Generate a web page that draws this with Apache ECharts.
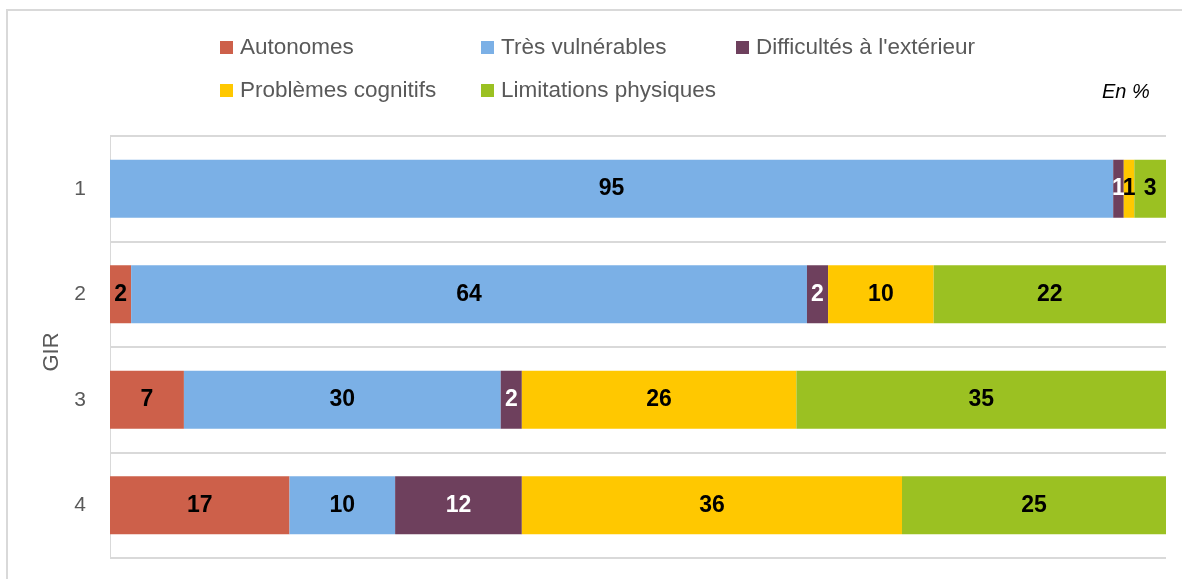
<!DOCTYPE html>
<html>
<head>
<meta charset="utf-8">
<script src="https://cdn.jsdelivr.net/npm/echarts@6/dist/echarts.min.js"></script>
<style>
html,body{margin:0;padding:0;background:#fff;}
#c{width:1182px;height:579px;}
</style>
</head>
<body>
<div id="c"></div>
<script>
const categories = ['1', '2', '3', '4'];
const seriesNames = ['Autonomes', 'Très vulnérables', "Difficultés à l'extérieur", 'Problèmes cognitifs', 'Limitations physiques'];
const autonomes = [0, 2, 7, 17];
const tresVulnerables = [95, 64, 30, 10];
const difficultes = [1, 2, 2, 12];
const problemes = [1, 10, 26, 36];
const limitations = [3, 22, 35, 25];
const colors = ['#CD604A', '#7BB0E6', '#6E405D', '#FFC800', '#9BC122'];
const labelColors = ['#000', '#000', '#fff', '#000', '#000'];
const values = [autonomes, tresVulnerables, difficultes, problemes, limitations];

const chart = echarts.init(document.getElementById('c'), null, {renderer: 'canvas'});
const font = '"Liberation Sans", Arial, sans-serif';

const legendPos = [[220, 36], [481, 36], [736, 36], [220, 79], [481, 79]];
const legends = seriesNames.map((n, i) => ({
  data: [n],
  left: legendPos[i][0],
  top: legendPos[i][1],
  itemWidth: 13,
  itemHeight: 13,
  itemGap: 4,
  padding: 0,
  icon: 'rect',
  selectedMode: false,
  textStyle: {color: '#595959', fontSize: 22.5, fontFamily: font, padding: [0, 0, 0, 2]}
}));

const series = seriesNames.map((n, i) => ({
  name: n,
  type: 'bar',
  stack: 'total',
  barWidth: 58,
  data: values[i],
  itemStyle: {color: colors[i]},
  label: {
    show: true,
    position: 'inside',
    color: labelColors[i],
    fontWeight: 'bold',
    fontSize: 23,
    fontFamily: font,
    formatter: p => p.value === 0 ? '' : String(p.value)
  }
}));

chart.setOption({
  animation: false,
  backgroundColor: '#fff',
  legend: legends,
  grid: {left: 110, right: 16, top: 136, bottom: 21, containLabel: false},
  xAxis: {
    type: 'value',
    min: 0, max: 100,
    show: false
  },
  yAxis: {
    type: 'category',
    data: categories,
    inverse: true,
    name: 'GIR',
    nameLocation: 'middle',
    nameGap: 42,
    nameRotate: 90,
    nameTextStyle: {color: '#595959', fontSize: 22, fontFamily: font, padding: [0, 10, 0, 0]},
    axisLine: {show: true, lineStyle: {color: '#D9D9D9', width: 1}},
    axisTick: {show: false},
    axisLabel: {color: '#595959', fontSize: 21, fontFamily: font, margin: 24},
    splitLine: {show: true, lineStyle: {color: '#D9D9D9', width: 2}}
  },
  graphic: [
    {type: 'rect', shape: {x: 7, y: 10, width: 1200, height: 600}, style: {fill: null, stroke: '#D9D9D9', lineWidth: 2}, z: -1},
    {type: 'text', left: 1102, top: 82, style: {text: 'En %', font: 'italic 20px "Liberation Sans", Arial, sans-serif', fill: '#000'}}
  ],
  series: series
});
</script>
</body>
</html>
